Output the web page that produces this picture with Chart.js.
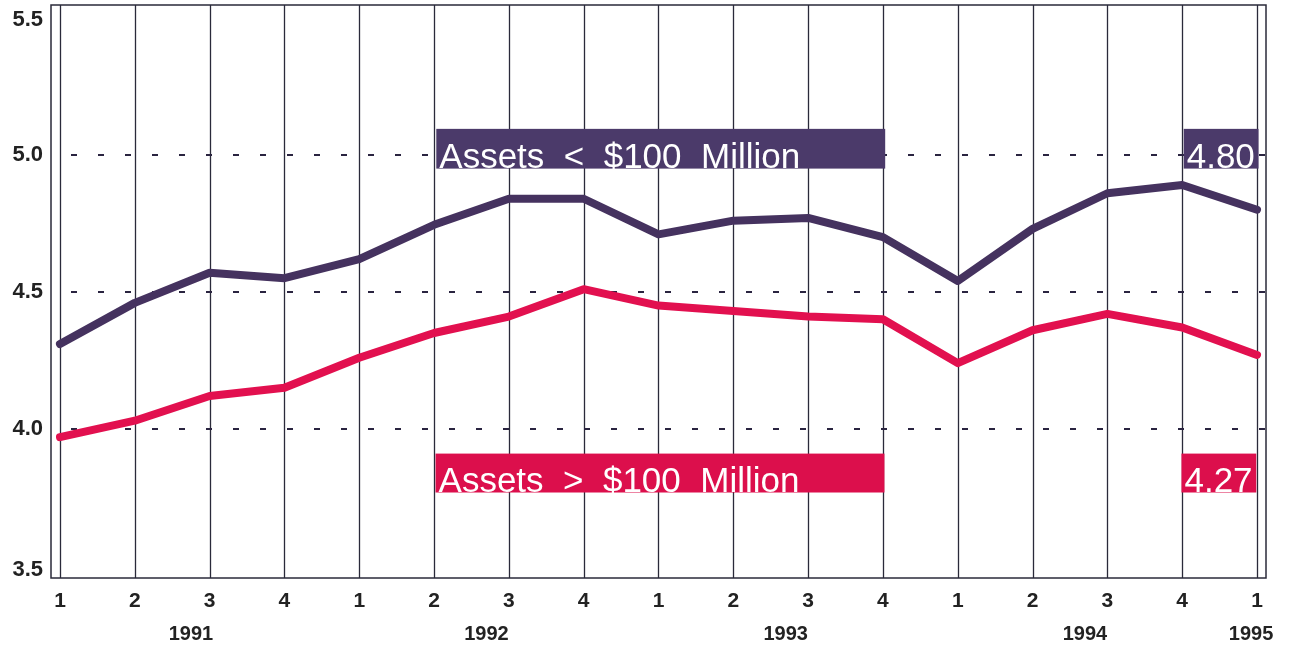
<!DOCTYPE html>
<html>
<head>
<meta charset="utf-8">
<script src="https://cdn.jsdelivr.net/npm/chart.js@4/dist/chart.umd.min.js"></script>
<style>
html,body{margin:0;padding:0;background:#fff;}
#wrap{position:relative;width:1289px;height:646px;}
</style>
</head>
<body>
<div id="wrap"><canvas id="c" width="1289" height="646"></canvas></div>
<script>
const quarterLabels = ["1","2","3","4","1","2","3","4","1","2","3","4","1","2","3","4","1"];
const yearLabels = ["1991","1992","1993","1994","1995"];
const yearPositions = [1.75, 5.7, 9.7, 13.7, 15.92];
const smallBanks = [4.31,4.46,4.57,4.55,4.62,4.745,4.84,4.84,4.71,4.76,4.77,4.70,4.54,4.73,4.86,4.89,4.80];
const largeBanks = [3.97,4.03,4.12,4.15,4.26,4.35,4.41,4.51,4.45,4.43,4.41,4.40,4.24,4.36,4.42,4.37,4.27];
const yTicks = [3.5,4.0,4.5,5.0,5.5];
const gridValues = [4.0,4.5,5.0];
const seriesNames = ["Assets  <  $100  Million","Assets  >  $100  Million"];
const lastValues = ["4.80","4.27"];

const PURPLE_LINE = "#45325f";
const RED_LINE = "#e2104f";
const PURPLE_BOX = "#4b3a6a";
const RED_BOX = "#dc0f4c";
const LABEL_FONT = "bold 22px 'Liberation Sans',Arial,sans-serif";

const toPts = arr => arr.map((v,i)=>({x:i,y:v}));

const overlay = {
  id:"overlay",
  beforeDatasetsDraw(chart){
    const {ctx, chartArea:a, scales:{x,y}} = chart;
    ctx.save();
    ctx.strokeStyle = "#2a2a3a";
    ctx.lineWidth = 1.3;
    for(let i=0;i<quarterLabels.length;i++){
      const px = Math.round(x.getPixelForValue(i))+0.5;
      ctx.beginPath(); ctx.moveTo(px,a.top); ctx.lineTo(px,a.bottom); ctx.stroke();
    }
    ctx.strokeStyle = "#2a2440";
    ctx.lineWidth = 2;
    ctx.setLineDash([6,21]);
    gridValues.forEach(v=>{
      const py = Math.round(y.getPixelForValue(v));
      ctx.beginPath(); ctx.moveTo(a.left+20,py); ctx.lineTo(a.right,py); ctx.stroke();
    });
    ctx.setLineDash([]);
    const boxes = [
      {x0:5.03, x1:11.03, y0:5.095, y1:4.95, color:PURPLE_BOX, text:seriesNames[0]},
      {x0:5.02, x1:11.02, y0:3.91, y1:3.768, color:RED_BOX, text:seriesNames[1]},
      {x0:15.02, x1:16.02, y0:5.095, y1:4.95, color:PURPLE_BOX, text:lastValues[0]},
      {x0:14.99, x1:15.99, y0:3.91, y1:3.768, color:RED_BOX, text:lastValues[1]},
    ];
    ctx.font = "35px 'Liberation Sans',Arial,sans-serif";
    ctx.textBaseline = "alphabetic";
    ctx.textAlign = "left";
    boxes.forEach(b=>{
      const X0 = x.getPixelForValue(b.x0), X1 = x.getPixelForValue(b.x1);
      const Y0 = y.getPixelForValue(b.y0), Y1 = y.getPixelForValue(b.y1);
      ctx.fillStyle = b.color;
      ctx.fillRect(X0,Y0,X1-X0,Y1-Y0);
      ctx.fillStyle = "#ffffff";
      ctx.fillText(b.text, X0+3, Y1-1);
    });
    ctx.restore();
  },
  afterDraw(chart){
    const {ctx, chartArea:a, scales:{x,y}} = chart;
    ctx.save();
    ctx.strokeStyle = "#2a2a3a";
    ctx.lineWidth = 1.5;
    ctx.strokeRect(a.left, a.top, a.right-a.left, a.bottom-a.top);
    ctx.fillStyle = "#222";
    ctx.font = LABEL_FONT;
    ctx.textAlign = "right";
    ctx.textBaseline = "middle";
    yTicks.forEach(v=>{
      let py = y.getPixelForValue(v);
      if (v===yTicks[0]) py += 4;
      if (v===yTicks[yTicks.length-1]) py += 2;
      ctx.fillText(v.toFixed(1), 43, py);
    });
    ctx.textAlign = "center";
    ctx.font = "bold 21px 'Liberation Sans',Arial,sans-serif";
    quarterLabels.forEach((t,i)=>{
      ctx.fillText(t, x.getPixelForValue(i), 601);
    });
    ctx.font = "bold 20px 'Liberation Sans',Arial,sans-serif";
    yearLabels.forEach((t,i)=>{
      ctx.fillText(t, x.getPixelForValue(yearPositions[i]), 634);
    });
    ctx.restore();
  }
};

new Chart(document.getElementById("c"), {
  type:"line",
  data:{
    datasets:[
      {data:toPts(smallBanks), borderColor:PURPLE_LINE, borderWidth:8, pointRadius:0, fill:false, tension:0, borderJoinStyle:"round", borderCapStyle:"round"},
      {data:toPts(largeBanks), borderColor:RED_LINE, borderWidth:8, pointRadius:0, fill:false, tension:0, borderJoinStyle:"round", borderCapStyle:"round"}
    ]
  },
  options:{
    responsive:false,
    animation:false,
    layout:{padding:{left:51,right:23,top:5,bottom:68}},
    plugins:{legend:{display:false}, tooltip:{enabled:false}},
    scales:{
      x:{ type:"linear", min:-0.12, max:16.12, display:false },
      y:{ min:3.456, max:5.547, display:false }
    }
  },
  plugins:[overlay]
});
</script>
</body>
</html>
